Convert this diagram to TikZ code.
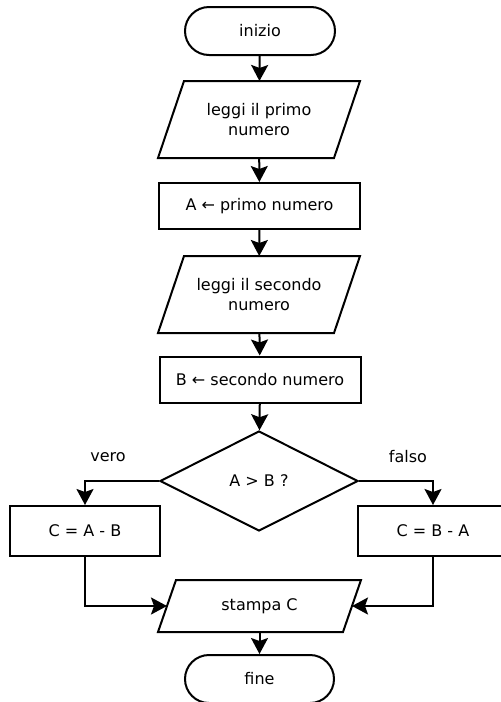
\documentclass[tikz,border=0pt]{standalone}
\usepackage{fontspec}
\setmainfont{DejaVu Sans}
\usetikzlibrary{arrows.meta,shapes.geometric,calc}

\begin{document}
\begin{tikzpicture}[x=1pt,y=-1pt,
  every node/.style={font=\fontsize{16}{20}\selectfont, align=center, inner sep=0pt},
  shapebox/.style={draw, line width=2pt, line join=miter},
  term/.style={shapebox, rectangle, rounded corners=24pt, minimum width=150pt, minimum height=48pt},
  proc/.style={shapebox, rectangle, minimum width=201pt, minimum height=46pt},
  io/.style={rectangle, outer sep=1pt},
  decision/.style={shapebox, diamond, minimum width=198pt, minimum height=100pt},
  flow/.style={line width=2pt, -{Stealth[length=16pt,width=17pt,inset=3pt]}},
  lbl/.style={font=\fontsize{16}{18}\selectfont}
  ]
  \useasboundingbox (0,0) rectangle (501,702);
  \clip (0,0) rectangle (501,702);

  % terminals, steps and input/output blocks
  \node[term] (start) at (260,31) {inizio};

  \node[io, minimum width=174pt, minimum height=75pt] (in1) at (259,119.5) {leggi il primo\\numero};
  \draw[shapebox] ($(in1.north west)+(13,0)$) -- ($(in1.north east)+(13,0)$)
    -- ($(in1.south east)+(-13,0)$) -- ($(in1.south west)+(-13,0)$) -- cycle;

  \node[proc] (setA) at (259.5,206) {A ← primo numero};

  \node[io, minimum width=174pt, minimum height=75pt] (in2) at (259,294.5) {leggi il secondo\\numero};
  \draw[shapebox] ($(in2.north west)+(13,0)$) -- ($(in2.north east)+(13,0)$)
    -- ($(in2.south east)+(-13,0)$) -- ($(in2.south west)+(-13,0)$) -- cycle;

  \node[proc] (setB) at (260,379.5) {B ← secondo numero};

  \node[decision] (test) at (259,481) {A > B ?};

  \node[proc, minimum width=150pt, minimum height=50pt] (left) at (85,531) {C = A - B};
  \node[proc, minimum width=150pt, minimum height=50pt] (right) at (433,531) {C = B - A};

  \node[io, minimum width=183pt, minimum height=50pt] (out) at (259.5,606) {stampa C};
  \draw[shapebox] ($(out.north west)+(9,0)$) -- ($(out.north east)+(9,0)$)
    -- ($(out.south east)+(-9,0)$) -- ($(out.south west)+(-9,0)$) -- cycle;

  \node[term, minimum width=149pt] (stop) at (259.5,679) {fine};

  % branch labels
  \node[lbl] (vero) at (108,457) {vero};
  \node[lbl] (falso) at (408,457) {falso};

  % connectors
  \draw[flow] (start) -- (in1);
  \draw[flow] (in1) -- (setA);
  \draw[flow] (setA) -- (in2);
  \draw[flow] (in2) -- (setB);
  \draw[flow] (setB) -- (test);
  \draw[flow] (test.west) -| (left.north);
  \draw[flow] (test.east) -| (right.north);
  \draw[flow] (left.south) |- (out.west);
  \draw[flow] (right.south) |- (out.east);
  \draw[flow] (out) -- (stop);
\end{tikzpicture}
\end{document}
